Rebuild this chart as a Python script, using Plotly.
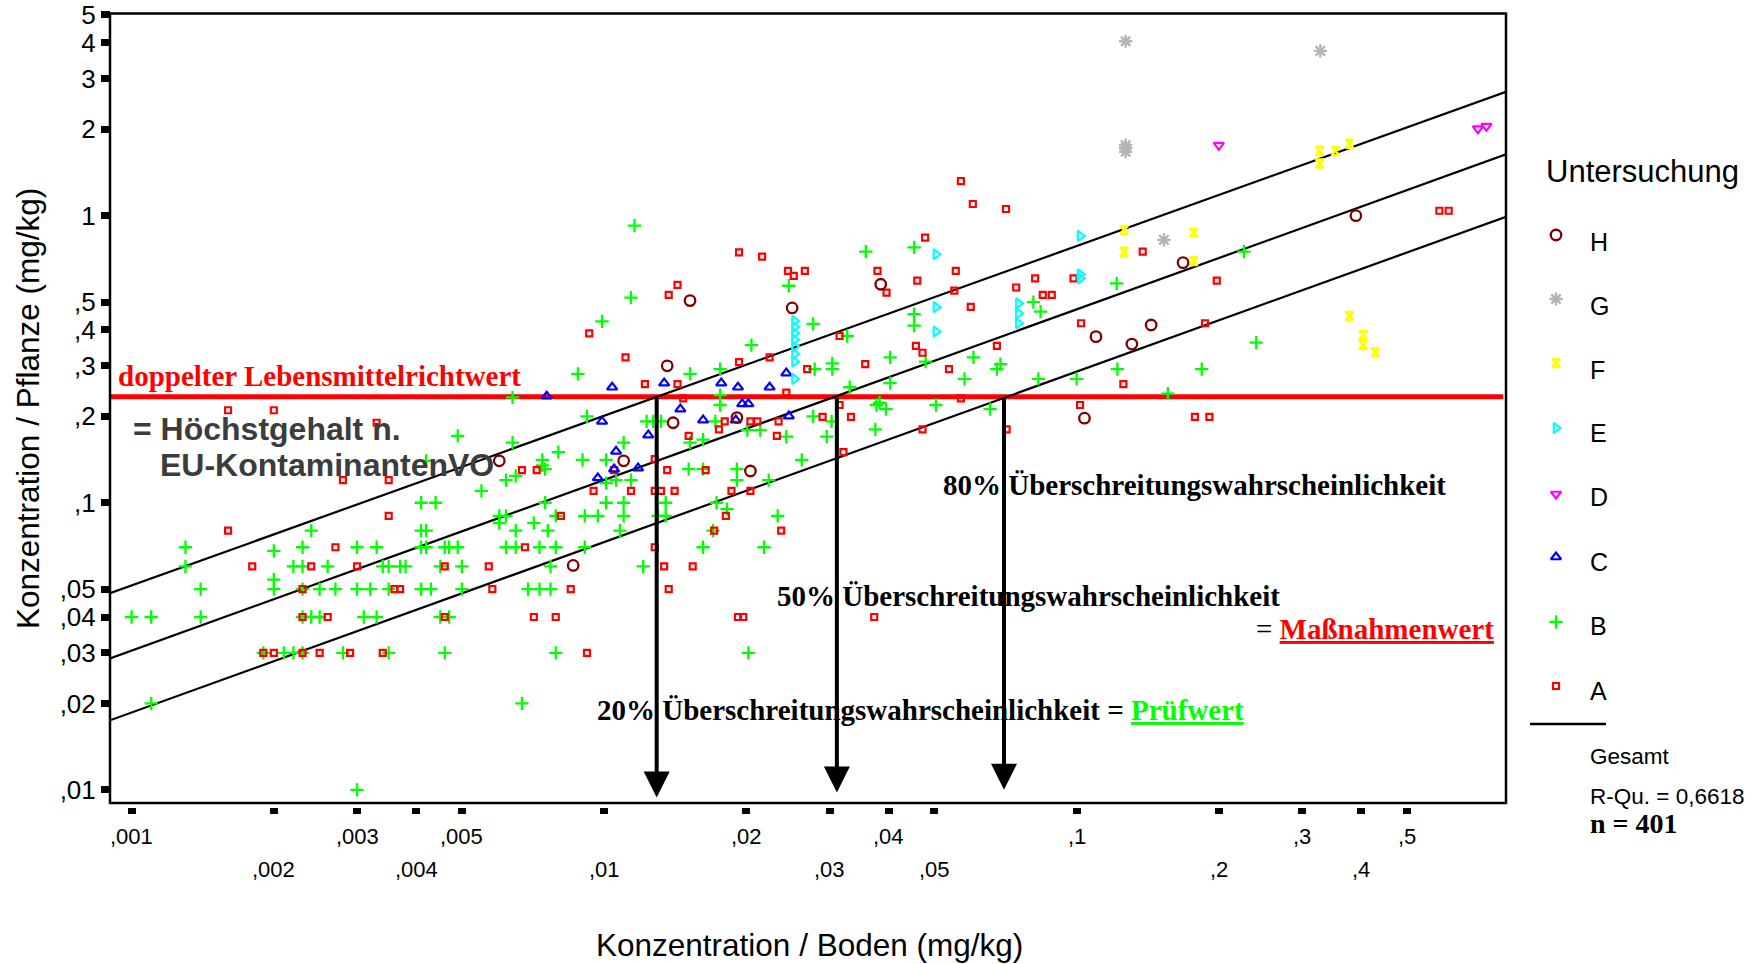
import numpy as np
import plotly.graph_objects as go

W, H = 1762, 964
SANS = "Liberation Sans, Arial, sans-serif"
SERIF = "Liberation Serif, Times New Roman, serif"

# ---------------- data ----------------
x_tickvals = [0.001, 0.002, 0.003, 0.004, 0.005, 0.01, 0.02, 0.03, 0.04, 0.05, 0.1, 0.2, 0.3, 0.4, 0.5]
x_ticktext = [",001", ",002", ",003", ",004", ",005", ",01", ",02", ",03", ",04", ",05", ",1", ",2", ",3", ",4", ",5"]
y_tickvals = [0.01, 0.02, 0.03, 0.04, 0.05, 0.1, 0.2, 0.3, 0.4, 0.5, 1, 2, 3, 4, 5]
y_ticktext = [",01", ",02", ",03", ",04", ",05", ",1", ",2", ",3", ",4", ",5", "1", "2", "3", "4", "5"]

x_range = [0.0009, 0.8106]
y_range = [0.0090, 5.06]

red_level = 0.234
red_x = [0.0009, 0.80]

fit_x = [0.0009, 0.8106]
fit_upper = [0.0484, 2.70]
fit_mid = [0.0287, 1.635]
fit_lower = [0.01747, 0.991]

arrow_x = [0.01292, 0.03109, 0.0702]
arrow_tip = [0.0094, 0.0098, 0.0100]

A_x = [0.0019, 0.0020, 0.0023, 0.0025, 0.0029, 0.0034, 0.0092,
       0.0023, 0.0026, 0.0046, 0.0071, 0.0079, 0.0192, 0.0197, 0.0373,
       0.0023, 0.0036, 0.0037, 0.0058, 0.0085, 0.0137,
       0.0018, 0.0024, 0.0030, 0.0046, 0.0057, 0.0134, 0.0154,
       0.0027, 0.0068, 0.0128,
       0.0016, 0.0171, 0.0237,
       0.0035, 0.0081, 0.0181,
       0.0095, 0.0114, 0.0128, 0.0132, 0.0141, 0.0186, 0.0204,
       0.0028, 0.0035,
       0.0067, 0.0072, 0.0105, 0.0136, 0.0164,
       0.0128, 0.0321, 0.0151, 0.0232,
       0.0175, 0.0472, 0.0711, 0.0033,
       0.0180, 0.0204, 0.0211, 0.0234,
       0.0290, 0.0333, 0.178, 0.191,
       0.0016, 0.0020, 0.0315, 0.1017,
       0.0147, 0.0569, 0.0243,
       0.0122, 0.0143, 0.1256,
       0.0269, 0.0537, 0.0357, 0.0193,
       0.0111, 0.0224, 0.0472, 0.0457, 0.0678,
       0.0315, 0.0093, 0.1022, 0.187, 0.0597,
       0.0137, 0.0848, 0.0886, 0.0396, 0.0551, 0.0745, 0.0143,
       0.046, 0.198, 0.0817, 0.0985, 0.0252,
       0.0245, 0.0266, 0.0379, 0.0555,
       0.0216, 0.0193, 0.138, 0.0478,
       0.586, 0.613, 0.0709, 0.0603, 0.0569]
A_y = [0.03, 0.03, 0.03, 0.03, 0.03, 0.03, 0.03,
       0.04, 0.04, 0.04, 0.04, 0.04, 0.04, 0.04, 0.04,
       0.05, 0.05, 0.05, 0.05, 0.05, 0.05,
       0.06, 0.06, 0.06, 0.06, 0.06, 0.06, 0.06,
       0.07, 0.07, 0.07,
       0.08, 0.08, 0.08,
       0.09, 0.09, 0.09,
       0.11, 0.11, 0.11, 0.11, 0.11, 0.11, 0.11,
       0.12, 0.12,
       0.13, 0.13, 0.13, 0.13, 0.13,
       0.142, 0.15, 0.171, 0.171,
       0.18, 0.18, 0.18, 0.19,
       0.192, 0.192, 0.192, 0.192,
       0.199, 0.199, 0.199, 0.199,
       0.21, 0.21, 0.219, 0.219,
       0.231, 0.231, 0.242,
       0.259, 0.259, 0.259,
       0.292, 0.292, 0.304, 0.309,
       0.321, 0.321, 0.333, 0.352, 0.352,
       0.381, 0.389, 0.422, 0.422, 0.481,
       0.53, 0.53, 0.53, 0.539, 0.548, 0.562, 0.574,
       0.594, 0.594, 0.605, 0.605, 0.617,
       0.642, 0.642, 0.642, 0.642,
       0.72, 0.745, 0.749, 0.838,
       1.04, 1.04, 1.055, 1.098, 1.32]

B_x = [0.0011, 0.0067, 0.0030,
       0.0019, 0.0021, 0.0022, 0.0023, 0.0028, 0.0035, 0.0046, 0.0079, 0.0202,
       0.0010, 0.0011, 0.0014, 0.0023, 0.0024, 0.0025, 0.0031, 0.0033, 0.0045, 0.0047,
       0.0014, 0.0020, 0.0023, 0.0025, 0.0027, 0.0030, 0.0032, 0.0035, 0.0041, 0.0043, 0.0050, 0.0069, 0.0073, 0.0077,
       0.0020,
       0.0013, 0.0022, 0.0023, 0.0026, 0.0034, 0.0035, 0.0037, 0.0038, 0.0045, 0.0050, 0.0077, 0.0121,
       0.0020,
       0.0013, 0.0023, 0.0030, 0.0033, 0.0041, 0.0042, 0.0046, 0.0047, 0.0049, 0.0062, 0.0065, 0.0073, 0.0079, 0.0091, 0.0162, 0.0218,
       0.0024, 0.0041, 0.0042, 0.0065, 0.0076, 0.0108, 0.0170,
       0.0060, 0.0071,
       0.0060, 0.0062, 0.0079, 0.0091, 0.0097, 0.0110, 0.0130, 0.0135, 0.0233,
       0.0182,
       0.0041, 0.0044, 0.0075, 0.0101, 0.0110, 0.0135, 0.0173,
       0.0055,
       0.0062, 0.0065, 0.0101, 0.0106, 0.0114, 0.0191, 0.0223,
       0.0075, 0.0151, 0.0162, 0.0191,
       0.0074,
       0.0042, 0.0074, 0.0090, 0.0101, 0.0262,
       0.0080,
       0.0064, 0.0110, 0.0152, 0.0162,
       0.0049, 0.0243, 0.0296,
       0.0201, 0.0214, 0.0375,
       0.0123, 0.0127, 0.0132, 0.0172, 0.0303,
       0.0092, 0.0277,
       0.0395, 0.0656,
       0.0176, 0.0377, 0.0504,
       0.0383, 0.0064, 0.0176, 0.156, 0.0331, 0.0403,
       0.0579, 0.0830, 0.100,
       0.0088, 0.0152,
       0.0176, 0.0279, 0.0304, 0.0678, 0.122, 0.184,
       0.0304, 0.0690, 0.0479,
       0.0403, 0.0605,
       0.0205, 0.240, 0.0327, 0.0453, 0.0277, 0.0099, 0.0453, 0.0839, 0.0810,
       0.0114, 0.0246, 0.1216, 0.0358, 0.226, 0.0453, 0.0116]
B_y = [0.02, 0.02, 0.01,
       0.03, 0.03, 0.03, 0.03, 0.03, 0.03, 0.03, 0.03, 0.03,
       0.04, 0.04, 0.04, 0.04, 0.04, 0.04, 0.04, 0.04, 0.04, 0.04,
       0.05, 0.05, 0.05, 0.05, 0.05, 0.05, 0.05, 0.05, 0.05, 0.05, 0.05, 0.05, 0.05, 0.05,
       0.054,
       0.06, 0.06, 0.06, 0.06, 0.06, 0.06, 0.06, 0.06, 0.06, 0.06, 0.06, 0.06,
       0.068,
       0.07, 0.07, 0.07, 0.07, 0.07, 0.07, 0.07, 0.07, 0.07, 0.07, 0.07, 0.07, 0.07, 0.07, 0.07, 0.07,
       0.08, 0.08, 0.08, 0.08, 0.08, 0.08, 0.08,
       0.085, 0.085,
       0.09, 0.09, 0.09, 0.09, 0.09, 0.09, 0.09, 0.09, 0.09,
       0.095,
       0.10, 0.10, 0.10, 0.10, 0.10, 0.10, 0.10,
       0.11,
       0.12, 0.124, 0.117, 0.12, 0.12, 0.12, 0.12,
       0.131, 0.131, 0.131, 0.131,
       0.135,
       0.14, 0.141, 0.141, 0.141, 0.141,
       0.15,
       0.162, 0.162, 0.162, 0.166,
       0.171, 0.17, 0.17,
       0.179, 0.179, 0.18,
       0.192, 0.192, 0.192, 0.192, 0.192,
       0.20, 0.20,
       0.212, 0.212,
       0.219, 0.219, 0.219,
       0.223, 0.233, 0.237, 0.24, 0.2525, 0.261,
       0.27, 0.27, 0.27,
       0.281, 0.281,
       0.292, 0.292, 0.292, 0.292, 0.292, 0.292,
       0.306, 0.304, 0.31,
       0.321, 0.321,
       0.354, 0.361, 0.381, 0.414, 0.42, 0.428, 0.454, 0.463, 0.50,
       0.518, 0.57, 0.581, 0.749, 0.749, 0.776, 0.923]

C_x = [0.00756, 0.0104, 0.0099, 0.0124, 0.0106, 0.0118, 0.0105, 0.0097, 0.0134, 0.0145,
       0.0162, 0.0177, 0.0192, 0.0196, 0.0202, 0.0190, 0.0224, 0.0246, 0.0243]
C_y = [0.235, 0.2525, 0.192, 0.172, 0.151, 0.132, 0.131, 0.122, 0.261, 0.212,
       0.194, 0.261, 0.2525, 0.221, 0.221, 0.194, 0.2525, 0.2005, 0.283]

D_x = [0.2, 0.707, 0.737]
D_y = [1.76, 2.01, 2.05]

E_x = [0.0253, 0.0253, 0.0253, 0.0253, 0.0253, 0.0253, 0.0253, 0.0253,
       0.0504, 0.0504, 0.0504, 0.0753, 0.0753, 0.0753, 0.1017, 0.1017, 0.1017]
E_y = [0.43, 0.41, 0.39, 0.37, 0.35, 0.33, 0.31, 0.27,
       0.734, 0.48, 0.395, 0.495, 0.457, 0.422, 0.85, 0.605, 0.625]

F_x = [0.126, 0.126, 0.177, 0.177, 0.327, 0.353, 0.378, 0.327, 0.378, 0.404, 0.404, 0.429]
F_y = [0.892, 0.749, 0.873, 0.695, 1.68, 1.68, 1.78, 1.52, 0.447, 0.384, 0.354, 0.334]

G_x = [0.127, 0.328, 0.127, 0.127, 0.127, 0.153]
G_y = [4.05, 3.75, 1.76, 1.72, 1.67, 0.823]

H_x = [0.0086, 0.0060, 0.0110, 0.0140, 0.0191, 0.0204, 0.0136, 0.0152,
       0.0250, 0.0385, 0.1039, 0.1099, 0.1309, 0.1438, 0.168, 0.39]
H_y = [0.0605, 0.140, 0.140, 0.190, 0.198, 0.129, 0.30, 0.506,
       0.477, 0.577, 0.197, 0.379, 0.357, 0.416, 0.686, 1.0]

groups = ["H", "G", "F", "E", "D", "C", "B", "A"]
r_squared_text = "R-Qu. = 0,6618"
n_text = "n = 401"

# ---------------- styles ----------------
styles = {
    "A": dict(symbol="square-open", size=6, color="#ff0000", lw=2.2),
    "B": dict(symbol="cross-thin-open", size=9.5, color="#00ff00", lw=2.3),
    "C": dict(symbol="triangle-up-open", size=9, color="#0000ff", lw=2.2),
    "D": dict(symbol="triangle-down-open", size=9, color="#ff00ff", lw=2.2),
    "E": dict(symbol="triangle-right-open", size=9, color="#00ffff", lw=2.2),
    "F": dict(symbol="hourglass-open", size=8, color="#ffff00", lw=2.4),
    "G": dict(symbol="asterisk-open", size=11, color="#b4b4b4", lw=2.4),
    "H": dict(symbol="circle-open", size=10.5, color="#800000", lw=2.3),
}
data = {"A": (A_x, A_y), "B": (B_x, B_y), "C": (C_x, C_y), "D": (D_x, D_y),
        "E": (E_x, E_y), "F": (F_x, F_y), "G": (G_x, G_y), "H": (H_x, H_y)}

# ---------------- layout helpers (pixel placement) ----------------
L, R, T, B = 110, 1506, 13.5, 803
def pxx(x): return x / W
def pyy(y): return 1 - y / H

fig = go.Figure()

# red reference line
fig.add_trace(go.Scatter(x=red_x, y=[red_level, red_level], mode="lines",
                         line=dict(color="#ff0000", width=5), hoverinfo="skip"))
# regression lines
for yy in (fit_upper, fit_mid, fit_lower):
    fig.add_trace(go.Scatter(x=fit_x, y=yy, mode="lines",
                             line=dict(color="black", width=2.2), hoverinfo="skip"))

for g in ["B", "A", "C", "D", "E", "F", "G", "H"]:
    s = styles[g]
    gx, gy = data[g]
    fig.add_trace(go.Scatter(x=gx, y=gy, mode="markers", name=g,
                             marker=dict(symbol=s["symbol"], size=s["size"], color=s["color"],
                                         line=dict(color=s["color"], width=s["lw"]))))

# legend markers on pixel overlay axes
leg_marker_y = [235, 299, 363, 428, 494, 557, 622, 686]
leg_label_y = [242, 306, 370, 433, 497, 562, 626, 691]
for g, my in zip(groups, leg_marker_y):
    s = styles[g]
    fig.add_trace(go.Scatter(x=[1556], y=[my], mode="markers", xaxis="x2", yaxis="y2",
                             marker=dict(symbol=s["symbol"], size=s["size"], color=s["color"],
                                         line=dict(color=s["color"], width=s["lw"])),
                             cliponaxis=False, hoverinfo="skip"))

ann = []
def txt(x, y, text, size, family=SANS, color="black", anchor="left", **kw):
    ann.append(dict(x=x, y=y, xref="x2", yref="y2", text=text, showarrow=False,
                    xanchor=anchor, yanchor="middle",
                    font=dict(size=size, family=family, color=color), **kw))

# legend texts
txt(1544, 171, "Untersuchung", 31)
for g, ly in zip(groups, leg_label_y):
    txt(1588, ly, g, 25)
txt(1588, 756, "Gesamt", 22.5)
txt(1588, 796, r_squared_text, 22.5)
txt(1588, 823, "<b>" + n_text + "</b>", 28, family=SERIF)

# chart annotations
txt(116, 376, "<b>doppelter Lebensmittelrichtwert</b>", 29, family=SERIF, color="#ff0000")
txt(131, 429, "<b>= Höchstgehalt n.</b>", 32, color="#3c3c3c")
txt(158, 465, "<b>EU-KontaminantenVO</b>", 32, color="#3c3c3c")
txt(941, 485, "<b>80% Überschreitungswahrscheinlichkeit</b>", 29, family=SERIF)
txt(775, 596, "<b>50% Überschreitungswahrscheinlichkeit</b>", 29, family=SERIF)
txt(1254, 629, "= <b><span style='color:#ff0000'><u>Maßnahmenwert</u></span></b>", 29, family=SERIF)
txt(595, 710, "<b>20% Überschreitungswahrscheinlichkeit = <span style='color:#00ff00'><u>Prüfwert</u></span></b>",
    29, family=SERIF)

# axis titles
txt(809, 945, "Konzentration / Boden (mg/kg)", 31.5, anchor="center")
ann.append(dict(x=28, y=409, xref="x2", yref="y2", text="Konzentration / Pflanze (mg/kg)",
                showarrow=False, textangle=-90, xanchor="center", yanchor="middle",
                font=dict(size=31.5, family=SANS, color="black")))

# x tick labels in two rows
for i, (v, t) in enumerate(zip(x_tickvals, x_ticktext)):
    ann.append(dict(x=np.log10(v), y=836 if i % 2 == 0 else 869, xref="x", yref="y2", text=t,
                    showarrow=False, xanchor="center", yanchor="middle",
                    font=dict(size=22, family=SANS, color="black")))

# arrows
for ax_, tip in zip(arrow_x, arrow_tip):
    ann.append(dict(x=np.log10(ax_), y=np.log10(tip), ax=np.log10(ax_), ay=np.log10(red_level),
                    xref="x", yref="y", axref="x", ayref="y", text="", showarrow=True,
                    arrowhead=2, arrowsize=1.3, arrowwidth=4, arrowcolor="black",
                    standoff=0, startstandoff=0))

shapes = [
    dict(type="rect", xref="paper", yref="paper", x0=pxx(L), x1=pxx(R), y0=pyy(B), y1=pyy(T),
         line=dict(color="black", width=2.5), layer="above"),
    dict(type="line", xref="x2", yref="y2", x0=1530, x1=1606, y0=724, y1=724,
         line=dict(color="black", width=2.5)),
]

fig.update_layout(
    width=W, height=H, margin=dict(l=0, r=0, t=0, b=0, pad=0, autoexpand=False),
    paper_bgcolor="white", plot_bgcolor="rgba(0,0,0,0)",
    showlegend=False,
    xaxis=dict(type="log", range=[np.log10(x_range[0]), np.log10(x_range[1])],
               domain=[pxx(L), pxx(R)], anchor="free", position=pyy(807), automargin=False,
               showline=False, showgrid=False, zeroline=False, showticklabels=False,
               tickvals=x_tickvals, ticks="outside", ticklen=6, tickwidth=8, tickcolor="black"),
    yaxis=dict(type="log", range=[np.log10(y_range[0]), np.log10(y_range[1])],
               domain=[pyy(B), pyy(T)], anchor="free", position=pxx(L), automargin=False,
               showline=False, showgrid=False, zeroline=False,
               tickvals=y_tickvals, ticktext=y_ticktext, ticks="outside", ticklen=9, tickwidth=7,
               tickcolor="black", tickfont=dict(size=26, family=SANS, color="black")),
    xaxis2=dict(domain=[0, 1], range=[0, W], anchor="y2", visible=False, fixedrange=True,
                automargin=False),
    yaxis2=dict(domain=[0, 1], range=[H, 0], anchor="x2", visible=False, fixedrange=True,
                automargin=False),
    annotations=ann, shapes=shapes,
)

fig.write_html("out.html")
